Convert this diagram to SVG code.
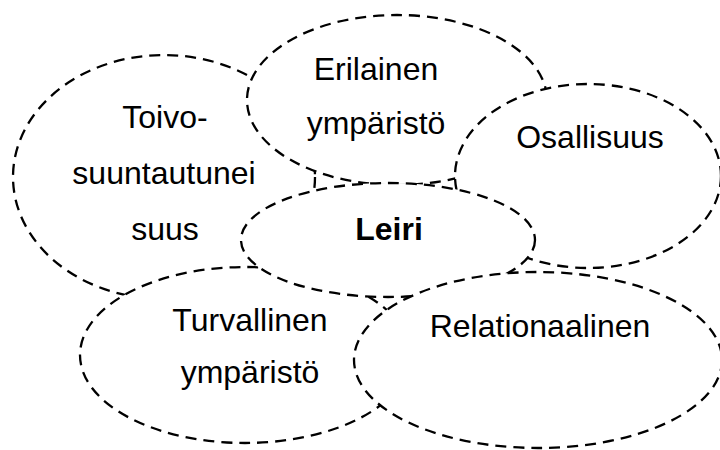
<svg xmlns="http://www.w3.org/2000/svg" width="720" height="450" viewBox="0 0 720 450">
<style>
.n ellipse{fill:#fff;stroke:#000;stroke-width:2.3;stroke-dasharray:11 7}
text{font-family:"Liberation Sans",Arial,sans-serif;font-size:32px;fill:#000;text-anchor:middle}
.b{font-weight:bold}
</style>
<rect width="720" height="450" fill="#fff"/>
<g id="toivo" class="n"><ellipse cx="164" cy="177" rx="151" ry="122"/>
<text x="165" y="128">Toivo-</text><text x="164" y="184">suuntautunei</text><text x="165" y="240">suus</text></g>
<g id="erilainen" class="n"><ellipse cx="397" cy="100" rx="150" ry="85"/>
<text x="376" y="80">Erilainen</text><text x="376" y="134">ympäristö</text></g>
<g id="osallisuus" class="n"><ellipse cx="588" cy="176" rx="133" ry="92"/>
<text x="590" y="148">Osallisuus</text></g>
<g id="turvallinen" class="n"><ellipse cx="245" cy="355" rx="165" ry="88"/>
<text x="250" y="331">Turvallinen</text><text x="250" y="383">ympäristö</text></g>
<g id="leiri" class="n"><ellipse cx="388" cy="240" rx="147" ry="57"/>
<text x="389" y="240" class="b">Leiri</text></g>
<g id="relationaalinen" class="n"><ellipse cx="538" cy="360" rx="184" ry="88"/>
<text x="540" y="337">Relationaalinen</text></g>
<g id="connectors"></g>
</svg>
